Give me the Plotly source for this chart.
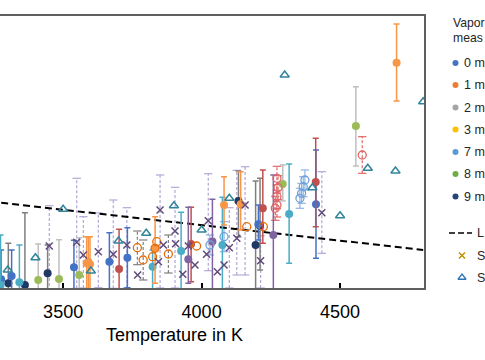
import plotly.graph_objects as go

FONT = "Liberation Sans, Arial, sans-serif"

# ---------------- data (Temperature in K, vapor pressure, +err, -err) ----------------
blue_T = [3276, 3314, 3539, 3667, 3732, 4205, 4413]
blue_P = [0.87, 1.2, 2.07, 2.63, 3.03, 6.37, 8.37]
blue_up = [2.93, 2.6, 2.7, 2.9, 3.0, 1.93, 5.43]
blue_dn = [3, 3, 3, 3, 3, 1.57, 5.4]

cyan_T = [3274, 3342, 3823, 3926, 4075, 4316]
cyan_P = [0.3, 0.57, 2.13, 3.7, 4.3, 7.4]
cyan_up = [5.0, 3.73, 1.67, 3.87, 4.77, 5.0]
cyan_dn = [3, 3, 2.3, 4, 4.5, 4.93]

red_T = [3702, 3962, 4221, 4412]
red_P = [1.9, 4.4, 7.97, 10.6]
red_up = [3.97, 3.67, 3.83, 4.37]
red_dn = [3, 3.77, 3.5, 4.47]

purple_T = [3952, 4039, 4259]
purple_P = [2.87, 4.65, 5.3]
purple_up = [5.2, 4.22, 6.0]
purple_dn = [2.4, 5, 6]

orange_T = [3585, 3591, 3597, 3832, 4081, 4141, 4704]
orange_P = [2.47, 2.63, 2.37, 3.97, 8.3, 8.37, 22.53]
orange_up = [2.66, 2.5, 2.76, 3.16, 2.83, 3.26, 3.87]
orange_dn = [3, 3, 3, 3.5, 2.0, 2.57, 3.83]

navy_T = [3302, 3362, 3444, 4133, 4195, 4211]
navy_P = [0.47, 0.3, 1.47, 8.7, 4.3, 6.23]
navy_up = [4.0, 7.23, 2.83, 3.0, 6.4, 4.74]
navy_dn = [3, 3, 3, 3.57, 5, 4.43]

green_T = [3410, 3485, 3558, 4293, 4557]
green_P = [0.8, 0.9, 1.3, 10.4, 16.2]
green_up = [3.6, 3.93, 3.73, 1.9, 3.93]
green_dn = [3, 3, 3, 1.7, 4.0]

oo_T = [3768, 3789, 3823, 3832, 3838, 3880, 3982, 4163, 4223]
oo_P = [4.03, 2.8, 3.13, 3.97, 4.63, 3.4, 4.2, 6.13, 6.13]
oo_up = [1.67, 2.0, 0, 0, 0, 1.9, 0, 0, 0]
oo_dn = [1.7, 2.0, 0, 0, 0, 1.9, 0, 0, 0]

or_T = [4266, 4272, 4272, 4276, 4272, 4580]
or_P = [7.97, 8.3, 9.13, 10.03, 10.97, 13.3]
or_up = [1.2, 1.2, 1.2, 1.2, 1.2, 1.83]
or_dn = [1.2, 1.2, 1.2, 1.2, 1.2, 1.83]

ob_T = [4030, 4081, 4355, 4361, 4367, 4373]
ob_P = [4.3, 5.13, 8.97, 9.47, 10.13, 10.8]
ob_up = [1.0, 1.5, 1.0, 1.0, 1.0, 1.0]
ob_dn = [1.0, 1.5, 1.0, 1.0, 1.0, 1.0]

x_T = [3450, 3549, 3573, 3627, 3681, 3730, 3769, 3844, 3850, 3862, 3904, 3906, 3932,
       3952, 3976, 4018, 4024, 4057, 4081, 4100, 4127, 4157, 4213, 4434]
x_P = [4.2, 4.57, 3.3, 3.63, 3.37, 4.3, 1.3, 2.63, 7.8, 4.3, 5.7, 4.43, 1.37,
       4.2, 2.3, 3.37, 6.73, 1.63, 2.3, 4.03, 4.97, 8.3, 2.73, 7.53]
x_up = [4.03, 6.4, 3.83, 3.87, 5.43, 3.73, 0, 0, 3.5, 0, 4.37, 0, 0,
        0, 0, 0, 4.7, 0, 0, 4.0, 6.8, 3.83, 2.5, 4.1]
x_dn = [4.5, 4.6, 3.3, 3.6, 3.4, 4.3, 0, 0, 7.8, 0, 5.7, 0, 0,
        0, 0, 0, 5.0, 0, 0, 4.03, 3.67, 7.0, 2.73, 4.06]

tri_T = [3300, 3400, 3500, 3600, 3700, 3800, 3900, 4000, 4100, 4300, 4400, 4500, 4600, 4700, 4800]
tri_P = [1.8, 3.03, 7.87, 1.7, 4.7, 5.47, 8.23, 5.8, 8.97, 21.3, 10.03, 7.23, 11.97, 11.7, 18.63]

line_T = [3000, 4800]
line_P = [9.37, 3.81]

x_ticks = [3500, 4000, 4500]

# legend texts as visible in the (cropped) reference
legend_title = ["Vapor", "meas"]
legend_labels = ["0 m", "1 m", "2 m", "3 m", "7 m", "8 m", "9 m"]
legend_colors = ["#4472C4", "#ED7D31", "#A5A5A5", "#FFC000", "#5B9BD5", "#70AD47", "#264478"]
legend_extra = ["L", "S", "S"]

fig = go.Figure()


def dashed_bars(T, P, up, dn, color, width=1.2, dash="3px,2px"):
    xs, ys, cx, cy = [], [], [], []
    for t, p, u, d in zip(T, P, up, dn):
        if u == 0 and d == 0:
            continue
        xs += [t, t, None]
        ys += [p - d, p + u, None]
        cx += [t, t]
        cy += [p - d, p + u]
    fig.add_trace(go.Scatter(x=xs, y=ys, mode="lines", line=dict(color=color, width=width, dash=dash),
                             hoverinfo="skip", showlegend=False))
    fig.add_trace(go.Scatter(x=cx, y=cy, mode="markers",
                             marker=dict(symbol="line-ew-open", size=6, color=color,
                                         line=dict(color=color, width=1.2)),
                             hoverinfo="skip", showlegend=False))


def filled(T, P, up, dn, color, barcolor=None, size=8):
    fig.add_trace(go.Scatter(
        x=T, y=P, mode="markers",
        marker=dict(color=color, size=size, line=dict(width=0)),
        error_y=dict(type="data", symmetric=False, array=up, arrayminus=dn,
                     color=barcolor or color, thickness=1.5, width=3),
        showlegend=False))


def open_markers(T, P, symbol, color, size=8, width=1.3, xaxis="x", yaxis="y"):
    fig.add_trace(go.Scatter(x=T, y=P, mode="markers", xaxis=xaxis, yaxis=yaxis,
                             marker=dict(symbol=symbol, size=size, color=color,
                                         line=dict(color=color, width=width)),
                             showlegend=False, hoverinfo="skip" if xaxis == "x2" else None))


# dashed bars (behind)
dashed_bars(x_T, x_P, x_up, x_dn, "#B4A7D6")
dashed_bars(oo_T, oo_P, oo_up, oo_dn, "#7F7F7F")
dashed_bars(or_T, or_P, or_up, or_dn, "#E06666")
dashed_bars(ob_T, ob_P, ob_up, ob_dn, "#8EB4E3", dash="solid")

# fit line
fig.add_trace(go.Scatter(x=line_T, y=line_P, mode="lines",
                         line=dict(color="black", width=2, dash="7px,4px"), showlegend=False))

filled(green_T, green_P, green_up, green_dn, "#9BBB59", "#BFBFBF")
filled(navy_T, navy_P, navy_up, navy_dn, "#1F3864", "#7F7F7F")
filled(blue_T, blue_P, blue_up, blue_dn, "#4472C4")
filled(cyan_T, cyan_P, cyan_up, cyan_dn, "#4BACC6")
filled(orange_T, orange_P, orange_up, orange_dn, "#F79646")
filled(red_T, red_P, red_up, red_dn, "#C0504D")
filled(purple_T, purple_P, purple_up, purple_dn, "#8064A2")

open_markers(oo_T, oo_P, "circle-open", "#E46C0A")
open_markers(or_T, or_P, "circle-open", "#E06666")
open_markers(ob_T, ob_P, "circle-open", "#6FA0D8")
open_markers(x_T, x_P, "x-thin-open", "#604A7B", size=7, width=1.5)
open_markers(tri_T, tri_P, "triangle-up-open", "#31859C", size=8, width=1.5)

# ---------------- manual legend on a pixel-coordinate helper axis ----------------
leg_y = [63, 85, 107.5, 129.5, 152, 174, 196.5]
fig.add_trace(go.Scatter(x=[455.5] * len(leg_y), y=leg_y, mode="markers",
                         marker=dict(color=legend_colors, size=6), xaxis="x2", yaxis="y2",
                         showlegend=False, hoverinfo="skip", cliponaxis=False))
fig.add_trace(go.Scatter(x=[449, 472], y=[233, 233], mode="lines",
                         line=dict(color="black", width=1.5, dash="6px,3px"),
                         xaxis="x2", yaxis="y2", showlegend=False, hoverinfo="skip"))
open_markers([462], [255.5], "x-thin-open", "#BF9000", size=6, width=1.5, xaxis="x2", yaxis="y2")
open_markers([462], [277.5], "triangle-up-open", "#2E75B6", size=7, width=1.3, xaxis="x2", yaxis="y2")

annots = [
    dict(x=450.5, y=23, text=legend_title[0], size=12.2),
    dict(x=450.5, y=38, text=legend_title[1], size=12.2),
]
for lab, yy in zip(legend_labels, leg_y):
    annots.append(dict(x=462, y=yy, text=lab, size=12.5))
for lab, yy in zip(legend_extra, [233, 255.5, 277.5]):
    annots.append(dict(x=474.5, y=yy, text=lab, size=12.5))
annotations = []
for a in annots:
    annotations.append(dict(x=a["x"], y=a["y"], text=a["text"], xref="x2", yref="y2",
                            xanchor="left", yanchor="middle", showarrow=False,
                            font=dict(family=FONT, size=a["size"], color="#262626")))
annotations.append(dict(x=174 / 485, y=1 - 335 / 360, xref="paper", yref="paper",
                        text="Temperature in K", showarrow=False, xanchor="center", yanchor="middle",
                        font=dict(family=FONT, size=18, color="black")))

fig.update_layout(
    width=485, height=360,
    margin=dict(l=0, r=0, t=0, b=0, autoexpand=False),
    paper_bgcolor="white", plot_bgcolor="white",
    showlegend=False,
    font=dict(family=FONT, size=18, color="black"),
    xaxis=dict(domain=[0, 424 / 485], range=[3272, 4803], tickvals=x_ticks,
               ticks="inside", ticklen=5, tickwidth=1.5, tickcolor="black", ticklabelstandoff=7,
               showline=True, mirror=True, linecolor="#5f5f5f", linewidth=1.7,
               showgrid=False, zeroline=False, tickfont=dict(family=FONT, size=18, color="black")),
    yaxis=dict(domain=[72 / 360, 344 / 360], range=[0, 27.2], side="right",
               showline=True, linecolor="#5f5f5f", linewidth=1.5,
               showticklabels=False, ticks="", showgrid=False, zeroline=False),
    xaxis2=dict(domain=[424 / 485, 1], range=[424, 485], visible=False, anchor="y2"),
    yaxis2=dict(domain=[0, 1], range=[360, 0], visible=False, anchor="x2"),
    annotations=annotations,
)

fig.write_html("out.html", config={"displayModeBar": False},
               post_script="document.body.style.margin='0';document.body.style.overflow='hidden';")
